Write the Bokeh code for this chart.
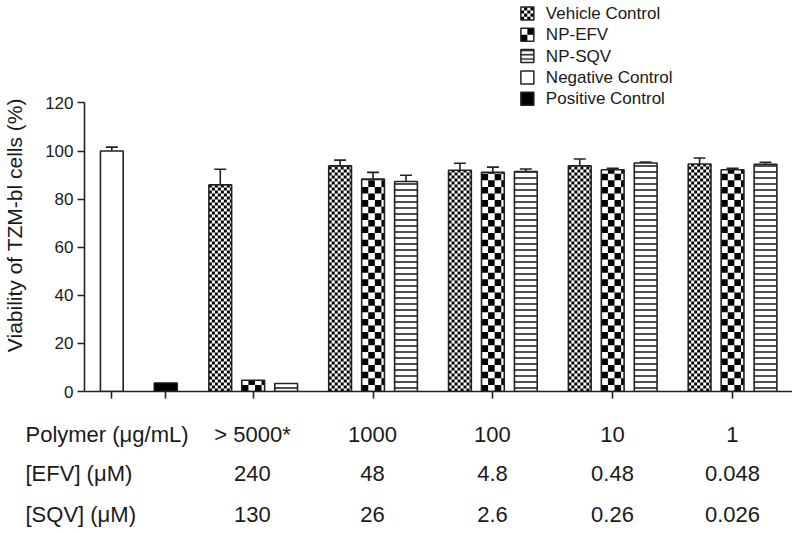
import math
from bokeh.plotting import figure
from bokeh.layouts import column
from bokeh.models import Range1d, FixedTicker, CustomJSTickFormatter
from bokeh.core.properties import value
from bokeh.embed import file_html
from bokeh.resources import INLINE

# ---------------- data ----------------
polymer_labels = ["> 5000*", "1000", "100", "10", "1"]
efv_labels = ["240", "48", "4.8", "0.48", "0.048"]
sqv_labels = ["130", "26", "2.6", "0.26", "0.026"]
row_titles = ["Polymer (\u03bcg/mL)", "[EFV] (\u03bcM)", "[SQV] (\u03bcM)"]
legend_labels = ["Vehicle Control", "NP-EFV", "NP-SQV", "Negative Control", "Positive Control"]

vehicle = [85.9, 93.8, 92.0, 93.8, 94.6]
vehicle_err = [6.5, 2.4, 2.9, 2.9, 2.5]
np_efv = [4.7, 88.3, 91.1, 92.2, 92.2]
np_efv_err = [0.0, 2.8, 2.2, 0.6, 0.6]
np_sqv = [3.3, 87.3, 91.5, 95.0, 94.5]
np_sqv_err = [0.0, 2.6, 1.0, 0.4, 0.8]
negative = [100.0]
negative_err = [1.6]
positive = [3.5]
positive_err = [0.0]

y_ticks = [0, 20, 40, 60, 80, 100, 120]

# ---------------- layout constants ----------------
FONT = "Liberation Sans"
TXT = "#1a1a1a"
LINE = "#222222"
GROUP_X = list(range(len(polymer_labels)))
OFFSET = 0.275
BAR_W = 0.19
NEG_X = -1.18
POS_X = -0.73
CAP = 0.05

W = 792
LEFT = 83
FRAME_H = 391
H1 = FRAME_H + 20
H2 = 117
PX_X = 120.0      # px per x unit
PX_Y = 2.405      # px per y unit
X_START = -1.408
X_END = X_START + (W - LEFT) / PX_X
Y_END = FRAME_H / PX_Y


def sx(px):
    return X_START + (px - LEFT) / PX_X


def sy(py):
    return (FRAME_H - py) / PX_Y


p = figure(width=W, height=H1, output_backend="svg", toolbar_location=None,
           x_range=Range1d(X_START, X_END), y_range=Range1d(0, Y_END),
           min_border_left=LEFT, min_border_right=0,
           min_border_top=0, min_border_bottom=H1 - FRAME_H)
p.outline_line_color = None
p.grid.visible = False


def box_checker(left, right, bottom, top, cell_px):
    cw, ch = cell_px / PX_X, cell_px / PX_Y
    L, R, B, T = [], [], [], []
    rows = int(math.ceil((top - bottom) / ch - 1e-9))
    cols = int(math.ceil((right - left) / cw - 1e-9))
    for r in range(rows):
        for c in range(cols):
            if (r + c) % 2 == 0:
                l = left + c * cw
                b = bottom + r * ch
                L.append(l); R.append(min(l + cw, right))
                B.append(b); T.append(min(b + ch, top))
    return L, R, B, T


def checker(xc, tops, w, cell_px):
    L, R, B, T = [], [], [], []
    for x, top in zip(xc, tops):
        l, r, b, t = box_checker(x - w / 2, x + w / 2, 0, top, cell_px)
        L += l; R += r; B += b; T += t
    return L, R, B, T


def xs(off):
    return [g + off for g in GROUP_X]


VEH_CELL = 3.0
EFV_CELL = 6.6

# vehicle bars
p.vbar(x=xs(-OFFSET), top=vehicle, width=BAR_W, bottom=0, fill_color="white", line_color=None)
L, R, B, T = checker(xs(-OFFSET), vehicle, BAR_W, VEH_CELL)
p.quad(left=L, right=R, bottom=B, top=T, fill_color="black", line_color=None)
p.vbar(x=xs(-OFFSET), top=vehicle, width=BAR_W, bottom=0, fill_color=None,
       line_color=LINE, line_width=1.6)

# NP-EFV bars
p.vbar(x=xs(0), top=np_efv, width=BAR_W, bottom=0, fill_color="white", line_color=None)
L, R, B, T = checker(xs(0), np_efv, BAR_W, EFV_CELL)
p.quad(left=L, right=R, bottom=B, top=T, fill_color="black", line_color=None)
p.vbar(x=xs(0), top=np_efv, width=BAR_W, bottom=0, fill_color=None,
       line_color=LINE, line_width=1.6)

# NP-SQV bars
p.vbar(x=xs(OFFSET), top=np_sqv, width=BAR_W, bottom=0, fill_color="white",
       hatch_pattern="-", hatch_color=LINE, hatch_scale=6, hatch_weight=1.6,
       line_color=LINE, line_width=1.6)

# controls
p.vbar(x=[NEG_X], top=negative, width=BAR_W, bottom=0, fill_color="white",
       line_color=LINE, line_width=1.6)
p.vbar(x=[POS_X], top=positive, width=BAR_W, bottom=0, fill_color="black",
       line_color="#111111", line_width=1.6)

# error bars (upper only)
ex, ey0, ey1 = [], [], []
for xv, tv, ev in zip(xs(-OFFSET) + xs(0) + xs(OFFSET) + [NEG_X, POS_X],
                      vehicle + np_efv + np_sqv + negative + positive,
                      vehicle_err + np_efv_err + np_sqv_err + negative_err + positive_err):
    if ev > 0:
        ex.append(xv); ey0.append(tv); ey1.append(tv + ev)
p.segment(x0=ex, y0=ey0, x1=ex, y1=ey1, line_color=LINE, line_width=1.6)
p.segment(x0=[v - CAP for v in ex], y0=ey1, x1=[v + CAP for v in ex], y1=ey1,
          line_color=LINE, line_width=1.6)

# ---------------- legend (drawn by hand) ----------------
LEG_X = 520
LEG_Y0 = 13
LEG_DY = 21.3
SW = 13
rows_y = [LEG_Y0 + i * LEG_DY for i in range(len(legend_labels))]
sw_l, sw_r = sx(LEG_X), sx(LEG_X + SW)
sw_t = [sy(cy - SW / 2) for cy in rows_y]
sw_b = [sy(cy + SW / 2) for cy in rows_y]

p.quad(left=[sw_l] * 5, right=[sw_r] * 5, bottom=sw_b, top=sw_t, fill_color="white", line_color=None)
L, R, B, T = box_checker(sw_l, sw_r, sw_b[0], sw_t[0], 3.2)
p.quad(left=L, right=R, bottom=B, top=T, fill_color="black", line_color=None)
L, R, B, T = box_checker(sw_l, sw_r, sw_b[1], sw_t[1], 6.5)
p.quad(left=L, right=R, bottom=B, top=T, fill_color="black", line_color=None)
p.quad(left=[sw_l], right=[sw_r], bottom=[sw_b[2]], top=[sw_t[2]], fill_color="white",
       hatch_pattern="-", hatch_color=LINE, hatch_scale=4.3, hatch_weight=1.5, line_color=None)
p.quad(left=[sw_l], right=[sw_r], bottom=[sw_b[4]], top=[sw_t[4]], fill_color="black", line_color=None)
p.quad(left=[sw_l] * 5, right=[sw_r] * 5, bottom=sw_b, top=sw_t, fill_color=None,
       line_color=LINE, line_width=1.5)
p.text(x=[sx(LEG_X + 25)] * 5, y=[sy(cy) for cy in rows_y], text=legend_labels,
       text_font=value(FONT), text_font_size="17px", text_color=TXT,
       text_baseline="middle", text_align="left")

# ---------------- axes ----------------
p.yaxis.bounds = (0, 120)
p.yaxis.ticker = FixedTicker(ticks=y_ticks)
p.yaxis.axis_label = "Viability of TZM-bl cells (%)" + "\u00a0" * 10
p.yaxis.axis_label_text_font = FONT
p.yaxis.axis_label_text_font_style = "normal"
p.yaxis.axis_label_text_font_size = "21px"
p.yaxis.axis_label_text_color = TXT
p.yaxis.axis_label_standoff = 16
p.yaxis.major_label_text_font = FONT
p.yaxis.major_label_text_font_size = "17px"
p.yaxis.major_label_text_color = TXT
p.yaxis.major_label_standoff = 4
p.yaxis.major_tick_out = 7
p.yaxis.major_tick_in = 0
p.yaxis.minor_tick_line_color = None

p.xaxis.ticker = FixedTicker(ticks=[NEG_X, POS_X] + GROUP_X)
p.xaxis.formatter = CustomJSTickFormatter(code="return '';")
p.xaxis.major_tick_out = 7
p.xaxis.major_tick_in = 0
p.xaxis.minor_tick_line_color = None

for ax in (p.xaxis[0], p.yaxis[0]):
    ax.axis_line_color = LINE
    ax.axis_line_width = 1.6
    ax.major_tick_line_color = LINE
    ax.major_tick_line_width = 1.6

# ---------------- table under the axis ----------------
X2_START = X_START - LEFT / PX_X
p2 = figure(width=W, height=H2, output_backend="svg", toolbar_location=None,
            x_range=Range1d(X2_START, X_END), y_range=Range1d(H2, 0),
            x_axis_type=None, y_axis_type=None, min_border=0)
p2.outline_line_color = None
p2.grid.visible = False

for fig in (p, p2):
    try:
        fig.frame_align = False
    except Exception:
        pass

ROW_Y = [434 - H1, 473 - H1, 514 - H1]
TITLE_X = X2_START + 25 / PX_X
p2.text(x=[TITLE_X] * 3, y=ROW_Y, text=row_titles, text_font=value(FONT),
        text_font_size="22px", text_color=TXT, text_baseline="middle", text_align="left")
for ty, labels in zip(ROW_Y, [polymer_labels, efv_labels, sqv_labels]):
    p2.text(x=GROUP_X, y=[ty] * len(labels), text=labels, text_font=value(FONT),
            text_font_size="22px", text_color=TXT, text_baseline="middle", text_align="center")

layout = column(p, p2, spacing=0)
open("out.html", "w").write(file_html(layout, INLINE))
